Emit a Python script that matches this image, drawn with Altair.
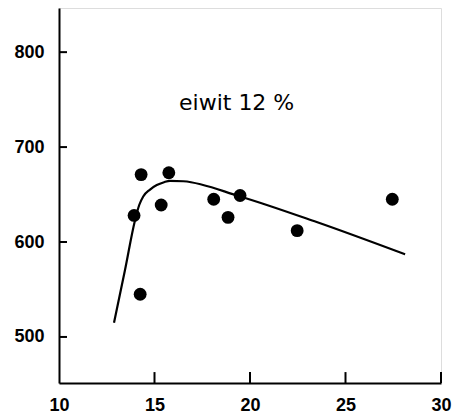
import altair as alt
import pandas as pd

# data points
pt_x = [13.93, 14.3, 14.25, 15.35, 15.75, 18.1, 18.85, 19.48, 22.47, 27.45]
pt_y = [628, 671, 545, 639, 673, 645, 626, 649, 612, 645]

# fitted curve
cv_x = [12.88, 13.45, 13.98, 14.2, 14.41, 14.75, 15.12, 15.5, 15.81, 16.51, 19.48, 23.49, 28.12]
cv_y = [515, 570, 623, 639, 648, 655, 660, 663, 664.5, 664, 648, 621, 587]

x_ticks = [15, 20, 25, 30]
y_ticks = [500, 600, 700, 800]
x_labels = [10, 15, 20, 25, 30]

note_text = ["eiwit 12 %"]
note_x = [19.3]
note_y = [739]

X_DOM = [10, 30]
Y_DOM = [451.5, 846.5]

pts = pd.DataFrame({"x": pt_x, "y": pt_y})
cv = pd.DataFrame({"x": cv_x, "y": cv_y})
xt = pd.DataFrame({"x": x_ticks, "y0": [Y_DOM[0]] * 4, "y1": [Y_DOM[0] + 11.5] * 4})
yt = pd.DataFrame({"y": y_ticks, "x0": [X_DOM[0]] * 4, "x1": [X_DOM[0] + 0.42] * 4})
note = pd.DataFrame({"t": note_text, "x": note_x, "y": note_y})

xs = alt.Scale(domain=X_DOM, nice=False, zero=False)
ys = alt.Scale(domain=Y_DOM, nice=False, zero=False)

FONT = "Liberation Sans"

x_axis = alt.Axis(values=x_labels, tickSize=0, labelPadding=13, domainWidth=2,
                  domainColor="black", labelFont=FONT, labelFontSize=18,
                  labelFontWeight="bold", labelColor="black", grid=False, title=None,
                  labelFlush=False)
y_axis = alt.Axis(values=y_ticks, tickSize=0, labelPadding=15, domainWidth=2,
                  domainColor="black", labelFont=FONT, labelFontSize=18,
                  labelFontWeight="bold", labelColor="black", grid=False, title=None)

base_axes = alt.Chart(pts).mark_point(opacity=0).encode(
    x=alt.X("x:Q", scale=xs, axis=x_axis),
    y=alt.Y("y:Q", scale=ys, axis=y_axis),
)

curve = alt.Chart(cv).mark_line(color="black", strokeWidth=2.2, interpolate="monotone").encode(
    x=alt.X("x:Q", scale=xs), y=alt.Y("y:Q", scale=ys)
)

dots = alt.Chart(pts).mark_circle(color="black", size=165, opacity=1).encode(
    x=alt.X("x:Q", scale=xs), y=alt.Y("y:Q", scale=ys)
)

xtk = alt.Chart(xt).mark_rule(color="black", strokeWidth=2).encode(
    x=alt.X("x:Q", scale=xs), y=alt.Y("y0:Q", scale=ys), y2="y1:Q"
)
ytk = alt.Chart(yt).mark_rule(color="black", strokeWidth=2).encode(
    y=alt.Y("y:Q", scale=ys), x=alt.X("x0:Q", scale=xs), x2="x1:Q"
)

txt = alt.Chart(note).mark_text(font="DejaVu Sans", fontSize=22, align="center",
                                baseline="alphabetic", color="black").encode(
    x=alt.X("x:Q", scale=xs), y=alt.Y("y:Q", scale=ys), text="t:N"
)

chart = alt.layer(base_axes, curve, dots, xtk, ytk, txt).properties(
    width=382, height=375,
    autosize=alt.AutoSizeParams(type="none"),
    padding={"left": 59, "top": 8, "right": 18, "bottom": 37},
).configure_view(strokeWidth=0, stroke="transparent").configure(background="white")

chart.save("out.html", embed_options={"renderer": "svg", "actions": False})
